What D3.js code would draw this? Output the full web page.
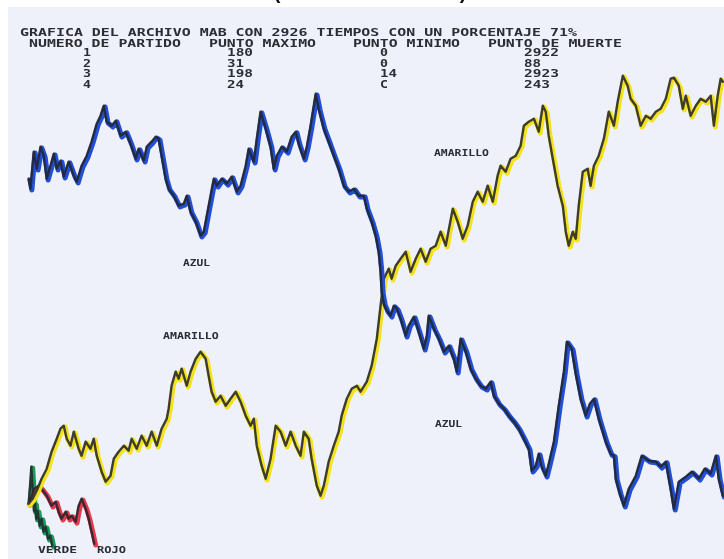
<!DOCTYPE html>
<html>
<head>
<meta charset="utf-8">
<script src="https://cdn.jsdelivr.net/npm/d3@7"></script>
<style>
  html, body { margin: 0; padding: 0; background: #ffffff; }
  svg { display: block; }
</style>
</head>
<body>
<svg id="grafica" width="724" height="559"></svg>
<script>
// Encabezado del listado
const titulo = "GRAFICA DEL ARCHIVO MAB CON 2926 TIEMPOS CON UN PORCENTAJE 71%";
const columnas = ["NUMERO DE PARTIDO", "PUNTO MAXIMO", "PUNTO MINIMO", "PUNTO DE MUERTE"];
const partidos = ["1", "2", "3", "4"];
const puntoMaximo = ["180", "31", "198", "24"];
const puntoMinimo = ["0", "0", "14", "C"];
const puntoMuerte = ["2922", "88", "2923", "243"];

// Recorrido de cada partido: tiempo y nivel
const tiempoAzul = [0,7,11,19,30,44,56,67,81,93,104,118,130,148,167,178,196,215,233,252,266,278,289,307,322,340,359,377,396,407,426,437,455,470,481,492,507,518,537,555,574,585,599,618,636,648,659,673,685,696,714,733,751,770,784,803,814,833,844,858,877,895,907,918,936,955,973,988,999,1018,1029,1043,1062,1073,1092,1110,1129,1147,1166,1184,1203,1221,1240,1251,1269,1284,1295,1302,1306,1314,1325,1339,1351,1362,1376,1395,1406,1425,1443,1462,1473,1480,1499,1517,1536,1554,1573,1584,1598,1617,1635,1654,1672,1691,1709,1721,1739,1758,1776,1795,1813,1832,1850,1861,1876,1887,1898,1913,1924,1943,1961,1980,1991,2009,2024,2042,2061,2076,2091,2109,2135,2153,2165,2172,2187,2202,2220,2246,2268,2294,2320,2338,2357,2375,2387,2405,2431,2453,2479,2501,2523,2542,2553,2568];
const nivelAzul = [95,85,98,122,105,127,118,95,108,120,105,113,97,112,98,92,108,118,132,150,158,168,152,148,153,138,142,130,115,125,113,127,132,137,135,118,95,85,78,68,70,78,62,52,38,42,58,78,95,88,95,90,97,82,88,108,125,112,135,162,145,127,105,118,127,122,137,142,130,115,127,148,180,165,145,132,118,105,88,82,85,78,78,65,52,38,22,2,-18,-30,-37,-42,-32,-35,-45,-62,-52,-43,-58,-75,-62,-42,-55,-65,-78,-72,-85,-98,-65,-78,-95,-105,-112,-115,-108,-122,-130,-135,-142,-148,-155,-165,-175,-197,-192,-180,-193,-202,-190,-168,-132,-98,-68,-75,-100,-125,-142,-130,-125,-145,-168,-180,-182,-205,-220,-232,-215,-202,-182,-187,-188,-193,-188,-215,-235,-208,-203,-198,-205,-195,-200,-182,-205,-222];

const tiempoAmarillo = [0,15,30,48,67,85,104,118,130,141,155,167,185,196,211,229,241,252,270,285,303,315,333,352,370,381,400,418,437,455,474,492,511,518,529,544,555,566,585,599,618,636,655,666,677,692,710,729,747,766,784,803,821,833,844,862,877,895,914,932,951,969,988,1006,1018,1036,1047,1066,1080,1092,1110,1129,1147,1158,1177,1195,1214,1228,1251,1269,1288,1302,1314,1332,1343,1358,1376,1395,1413,1432,1450,1469,1487,1506,1524,1543,1569,1587,1606,1624,1643,1661,1680,1698,1717,1735,1746,1765,1783,1802,1820,1832,1850,1869,1887,1902,1913,1924,1939,1957,1976,1987,1998,2013,2024,2035,2050,2068,2079,2091,2109,2128,2146,2165,2179,2198,2216,2227,2246,2264,2283,2301,2320,2338,2357,2375,2387,2405,2420,2431,2449,2468,2486,2505,2523,2535,2549,2560,2568];
const nivelAmarillo = [-230,-225,-217,-205,-195,-178,-165,-155,-152,-165,-172,-158,-175,-182,-168,-175,-165,-182,-198,-208,-202,-185,-178,-172,-177,-165,-175,-162,-172,-158,-172,-155,-145,-135,-112,-98,-105,-95,-112,-98,-85,-78,-85,-102,-118,-128,-122,-132,-125,-118,-128,-142,-152,-145,-172,-192,-205,-185,-152,-158,-172,-158,-172,-182,-158,-165,-185,-212,-222,-212,-188,-172,-158,-142,-125,-115,-112,-118,-108,-92,-65,-32,-5,5,-5,8,15,22,2,15,25,12,25,28,42,28,65,52,35,48,72,82,72,88,72,98,108,102,115,118,128,148,152,155,142,168,162,138,115,88,68,42,28,42,35,68,102,105,88,108,118,135,162,148,172,198,188,175,168,148,158,155,162,165,175,195,196,188,165,178,158,168,175,172,178,148,178,195,192];

const tiempoVerde = [0,4,8,10,13,17,20,24,28,33,41,48,55,63,72,80,88];
const nivelVerde = [-230,-217,-203,-193,-207,-223,-237,-230,-245,-237,-252,-245,-258,-253,-265,-262,-272];

const tiempoRojo = [0,11,22,37,48,67,85,100,111,122,137,148,159,174,185,196,211,222,233,243];
const nivelRojo = [-230,-223,-215,-212,-215,-222,-232,-228,-238,-245,-238,-245,-242,-248,-232,-225,-235,-245,-258,-270];

const series = [
  { nombre: "VERDE", color: "#1f9a5c", tiempo: tiempoVerde, nivel: nivelVerde },
  { nombre: "ROJO", color: "#e23a4e", tiempo: tiempoRojo, nivel: nivelRojo },
  { nombre: "AMARILLO", color: "#f3e21e", tiempo: tiempoAmarillo, nivel: nivelAmarillo },
  { nombre: "AZUL", color: "#2150d6", tiempo: tiempoAzul, nivel: nivelAzul }
];

// Rótulos sobre el trazado
const rotulos = [
  { texto: "AZUL", x: 183, y: 266, paso: 7 },
  { texto: "AMARILLO", x: 163, y: 339, paso: 7.1 },
  { texto: "AMARILLO", x: 434, y: 156, paso: 7 },
  { texto: "AZUL", x: 435, y: 427, paso: 7 },
  { texto: "VERDE", x: 38, y: 553, paso: 8 },
  { texto: "ROJO", x: 97, y: 553, paso: 7.5 }
];

const W = 724, H = 559;
const svg = d3.select("#grafica");

const defs = svg.append("defs");
defs.append("filter").attr("id", "suave")
  .attr("x", "-5%").attr("y", "-5%").attr("width", "110%").attr("height", "110%")
  .append("feGaussianBlur").attr("stdDeviation", 0.7);

// papel
svg.append("rect").attr("width", W).attr("height", H).attr("fill", "#ffffff");
svg.append("rect").attr("x", 8).attr("y", 7).attr("width", W - 8).attr("height", H - 7)
  .attr("fill", "#eef1f9");

const raiz = svg.append("g").attr("filter", "url(#suave)");

// título cortado en el borde superior
raiz.append("text").attr("x", 277).attr("y", -1.5)
  .attr("text-anchor", "middle").attr("font-family", "Liberation Sans, Arial, sans-serif")
  .attr("font-weight", "bold").attr("font-size", 20).attr("fill", "#111").text("(");
raiz.append("text").attr("x", 463).attr("y", -1.5)
  .attr("text-anchor", "middle").attr("font-family", "Liberation Sans, Arial, sans-serif")
  .attr("font-weight", "bold").attr("font-size", 20).attr("fill", "#111").text(")");

// escalas
const x = d3.scaleLinear().domain([0, 2926]).range([30, 821]);
const y = d3.scaleLinear().domain([-285, 275]).range([560, 0]);

const linea = d3.line()
  .x(d => x(d[0]))
  .y(d => y(d[1]))
  .curve(d3.curveLinear);

const trazos = raiz.append("g");
series.forEach(s => {
  const puntos = s.tiempo.map((t, i) => [t, s.nivel[i]]);
  const g = trazos.append("g").attr("class", "partido-" + s.nombre.toLowerCase());
  g.append("path").datum(puntos)
    .attr("d", linea)
    .attr("fill", "none")
    .attr("stroke", s.color)
    .attr("stroke-width", 5)
    .attr("stroke-linejoin", "round")
    .attr("stroke-linecap", "round");
  g.append("path").datum(puntos)
    .attr("d", linea)
    .attr("transform", "translate(-1.4,-1.3)")
    .attr("fill", "none")
    .attr("stroke", "#23262c")
    .attr("stroke-opacity", 0.88)
    .attr("stroke-width", 2.4)
    .attr("stroke-linejoin", "round")
    .attr("stroke-linecap", "round");
});

// texto de impresora: rejilla fija de 9 px
const x0 = 20, paso = 9;
const fuente = "DejaVu Sans Mono, Liberation Mono, monospace";
function renglon(texto, col, base) {
  raiz.append("text")
    .attr("x", x0 + col * paso)
    .attr("y", base)
    .attr("font-family", fuente)
    .attr("font-weight", "bold")
    .attr("font-size", 9.8)
    .attr("fill", "#2b2d33")
    .attr("textLength", texto.length * paso - 1)
    .attr("lengthAdjust", "spacingAndGlyphs")
    .text(texto);
}

renglon(titulo, 0, 36);
const colEncabezado = [1, 21, 37, 52];
columnas.forEach((c, i) => renglon(c, colEncabezado[i], 46.5));

const bases = [56, 66.5, 77, 87.5];
partidos.forEach((p, i) => {
  renglon(p, 7, bases[i]);
  renglon(puntoMaximo[i], 23, bases[i]);
  renglon(puntoMinimo[i], 40, bases[i]);
  renglon(puntoMuerte[i], 56, bases[i]);
});

rotulos.forEach(r => {
  raiz.append("text")
    .attr("x", r.x)
    .attr("y", r.y)
    .attr("font-family", fuente)
    .attr("font-weight", "bold")
    .attr("font-size", 8.5)
    .attr("fill", "#2b2d33")
    .attr("textLength", r.texto.length * r.paso - 1)
    .attr("lengthAdjust", "spacingAndGlyphs")
    .text(r.texto);
});
</script>
</body>
</html>
